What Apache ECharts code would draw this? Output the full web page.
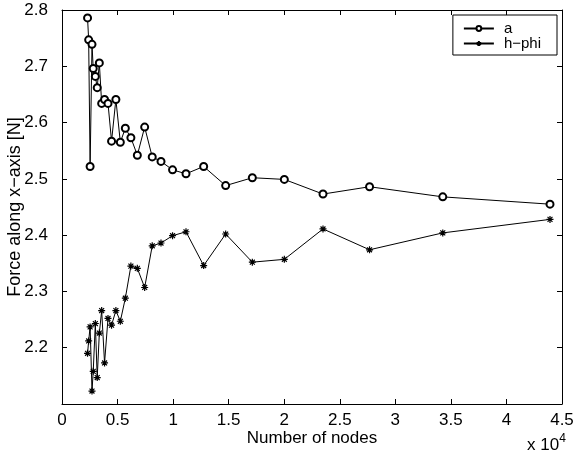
<!DOCTYPE html>
<html><head><meta charset="utf-8">
<script src="https://cdn.jsdelivr.net/npm/echarts@6/dist/echarts.min.js"></script>
<style>html,body{margin:0;padding:0;background:#fff}#c{width:581px;height:458px}</style>
</head><body><div id="c"></div>
<script>
const nodes = [2300, 2400, 2530, 2700, 2810, 3000, 3170, 3360, 3570, 3830, 4140, 4460, 4850, 5250, 5700, 6200, 6780, 7440, 8120, 8910, 9950, 11160, 12750, 14730, 17130, 20010, 23490, 27680, 34270, 43920];
const seriesA = [2.786, 2.747, 2.522, 2.739, 2.696, 2.682, 2.662, 2.706, 2.634, 2.641, 2.634, 2.567, 2.641, 2.565, 2.590, 2.573, 2.542, 2.592, 2.539, 2.531, 2.516, 2.509, 2.522, 2.488, 2.502, 2.499, 2.473, 2.486, 2.468, 2.455];
const seriesHphi = [2.190, 2.212, 2.237, 2.123, 2.158, 2.243, 2.147, 2.226, 2.266, 2.173, 2.252, 2.240, 2.266, 2.247, 2.288, 2.345, 2.341, 2.307, 2.381, 2.386, 2.399, 2.406, 2.346, 2.402, 2.352, 2.357, 2.411, 2.374, 2.404, 2.428];
const seriesNames = ['a', 'h\u2212phi'];
const xLabel = 'Number of nodes';
const yLabel = 'Force along x\u2212axis [N]';

const FONT = 'Liberation Sans, Arial, Helvetica, sans-serif';
const star = 'path://M5,0L5,10M0,5L10,5M1.5,1.5L8.5,8.5M1.5,8.5L8.5,1.5';
const chart = echarts.init(document.getElementById('c'), null, {renderer: 'canvas'});
const axisCommon = {
  axisLine: {show: true, onZero: false, lineStyle: {color: '#000', width: 1}},
  axisTick: {show: true, inside: true, length: 5, lineStyle: {color: '#000'}},
  splitLine: {show: false},
  nameMoveOverlap: false
};
chart.setOption({
  backgroundColor: '#fff',
  animation: false,
  textStyle: {fontFamily: FONT},
  grid: {left: 62, right: 19, top: 10, bottom: 54, containLabel: false, outerBoundsMode: 'none'},
  legend: {
    right: 24, top: 15, orient: 'vertical',
    backgroundColor: '#fff', borderColor: '#000', borderWidth: 1, borderRadius: 0,
    padding: [6, 16, 4, 10], itemGap: 0, itemWidth: 30, itemHeight: 6,
    textStyle: {fontFamily: FONT, fontSize: 15, lineHeight: 15, color: '#000', padding: [0, 0, 0, 5]}
  },
  xAxis: [
    Object.assign({type: 'value', position: 'bottom', min: 0, max: 45000, interval: 5000,
      name: xLabel, nameLocation: 'middle', nameGap: 26,
      nameTextStyle: {fontFamily: FONT, fontSize: 17, color: '#000'},
      axisLabel: {color: '#000', fontFamily: FONT, fontSize: 17, margin: 8,
        formatter: v => String(+(v / 10000).toFixed(1))}}, axisCommon),
    Object.assign({type: 'value', position: 'top', min: 0, max: 45000, interval: 5000,
      axisLabel: {show: false}}, axisCommon)
  ],
  yAxis: [
    Object.assign({type: 'value', position: 'left', min: 2.1, max: 2.8, interval: 0.1,
      name: yLabel, nameLocation: 'middle', nameGap: 38,
      nameTextStyle: {fontFamily: FONT, fontSize: 18, color: '#000'},
      axisLabel: {color: '#000', fontFamily: FONT, fontSize: 17, margin: 14,
        formatter: v => v < 2.15 ? '' : v.toFixed(1)}}, axisCommon),
    Object.assign({type: 'value', position: 'right', min: 2.1, max: 2.8, interval: 0.1,
      axisLabel: {show: false}}, axisCommon)
  ],
  graphic: [{
    type: 'text', left: 527, top: 433,
    style: {
      text: 'x 10{s|4}', fontFamily: FONT, fontSize: 17, fill: '#000',
      rich: {s: {fontSize: 12, verticalAlign: 'top', padding: [0, 0, 12, 0], fontFamily: FONT}}
    }
  }],
  series: [
    {
      name: seriesNames[0], type: 'line',
      data: nodes.map((x, i) => [x, seriesA[i]]),
      symbol: 'emptyCircle', symbolSize: 7, showAllSymbol: true,
      lineStyle: {color: '#000', width: 1},
      itemStyle: {color: '#000', borderColor: '#000', borderWidth: 1}
    },
    {
      name: seriesNames[1], type: 'line',
      data: nodes.map((x, i) => [x, seriesHphi[i]]),
      symbol: star, symbolSize: 7, showAllSymbol: true,
      lineStyle: {color: '#000', width: 1},
      itemStyle: {color: '#000', borderColor: '#000', borderWidth: 1.2}
    }
  ]
});
</script></body></html>
